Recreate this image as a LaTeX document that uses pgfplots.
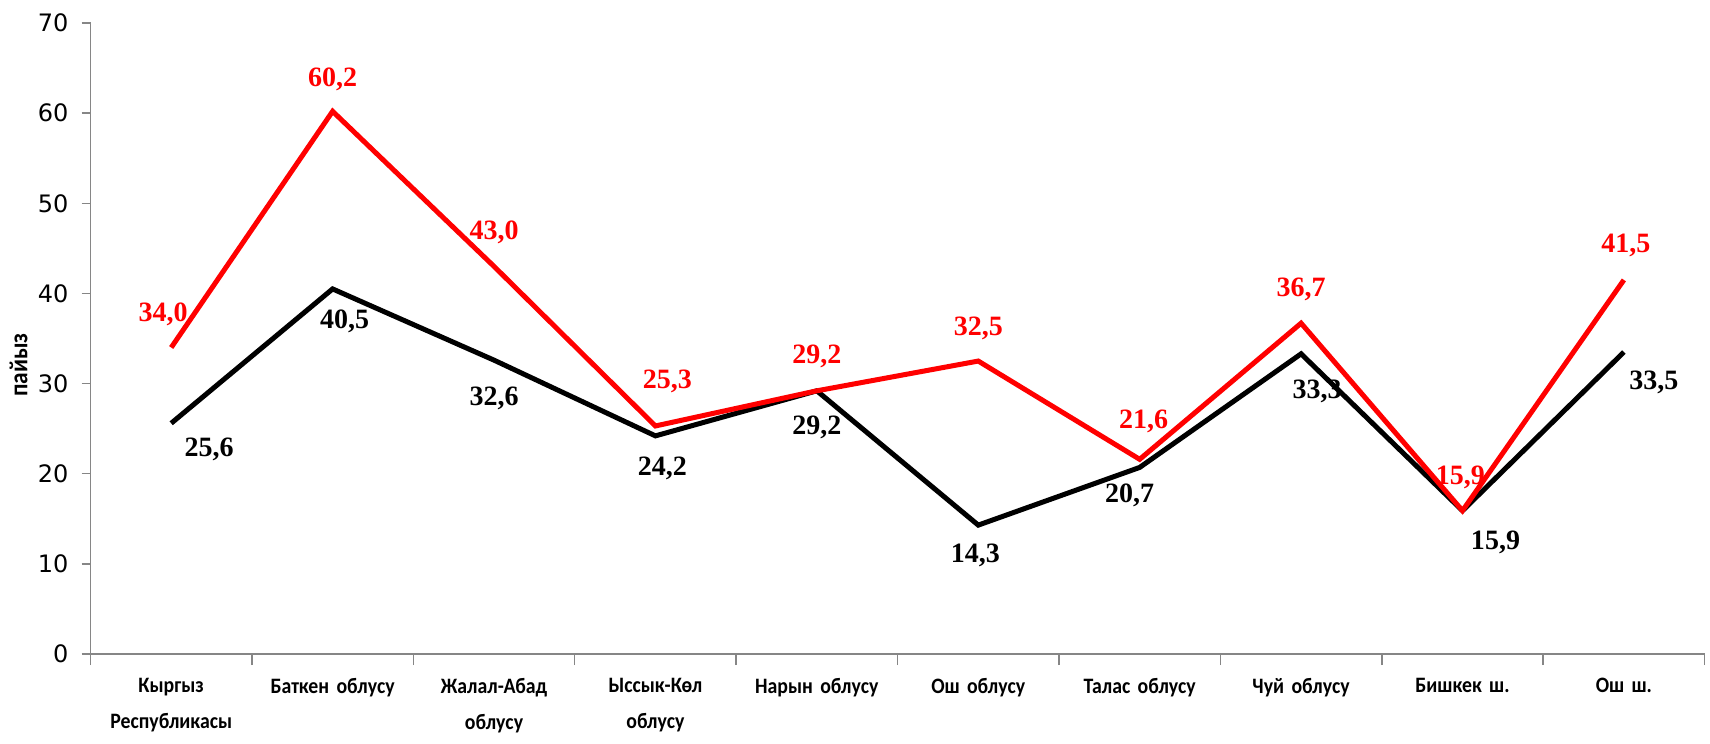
\documentclass[border=0pt]{standalone}
\usepackage{pgfplots}
\pgfplotsset{compat=1.18}
\usepackage{pgfplotstable}
\usepackage{fontspec}
\setmainfont{Liberation Serif}
\newfontfamily\dejavu{DejaVu Sans}
\newfontfamily\carlito{Carlito}[FakeStretch=0.9]
\definecolor{axgray}{HTML}{868686}
\definecolor{lred}{HTML}{FF0000}
\pgfplotstableread{
x r rdx rdy b bdx bdy
0 34.0 -4 16.5 25.6 19 -13
1 60.2 0 16 40.5 6 -16
2 43.0 0 17 32.6 0 -19
3 25.3 6 22.5 24.2 3.5 -16.5
4 29.2 0 17 29.2 0 -18.5
5 32.5 0 16.5 14.3 -1.5 -15
6 21.6 2 19 20.7 -5 -14
7 36.7 0 17 33.3 8 -19
8 15.9 -1 16.5 15.9 16.5 -16
9 41.5 1 17 33.5 15 -15
}\data
\begin{document}
\begin{tikzpicture}
\begin{axis}[
  scale only axis, width=807pt, height=315.5pt,
  xmin=-0.5, xmax=9.5, ymin=0, ymax=70,
  axis lines*=left,
  axis line style={axgray, line width=0.75pt, -},
  ytick={0,10,...,70},
  xtick={0,...,9},
  minor xtick={-0.5,0.5,...,9.5},
  xticklabels={{Кыргыз\\Республикасы},{Баткен облусу},{Жалал-Абад\\облусу},{Ыссык-Көл\\облусу},{Нарын облусу},{Ош облусу},{Талас облусу},{Чуй облусу},{Бишкек ш.},{Ош ш.}},
  x tick label style={font=\carlito\bfseries\fontsize{11}{18}\selectfont, align=center, text width=90pt, anchor=north, yshift=-4pt},
  y tick label style={font=\dejavu\fontsize{12}{14}\selectfont, xshift=-3pt},
  /pgf/number format/assume math mode=true,
  tick align=outside,
  major tick length=4.5pt,
  minor tick length=5.5pt,
  major x tick style={draw=none},
  minor x tick style={draw=axgray, line width=0.75pt},
  ytick style={draw=axgray, line width=0.75pt},
  clip=false,
]
\coordinate (sw) at (rel axis cs:0,0);
\coordinate (ne) at (rel axis cs:1,1);
\addplot[black, line width=2.5pt, mark=none,
  point meta=\thisrow{b},
  visualization depends on={\thisrow{bdx}\as\dx},
  visualization depends on={\thisrow{bdy}\as\dy},
  nodes near coords={\pgfmathprintnumber[fixed,fixed zerofill,precision=1,use comma]{\pgfplotspointmeta}},
  every node near coord/.append style={anchor=center, inner sep=0pt, xshift=\dx pt, yshift=\dy pt, font=\bfseries\fontsize{14}{16}\selectfont, text=black}
] table[x=x,y=b]{\data};
\addplot[lred, line width=2.5pt, mark=none,
  point meta=\thisrow{r},
  visualization depends on={\thisrow{rdx}\as\dx},
  visualization depends on={\thisrow{rdy}\as\dy},
  nodes near coords={\pgfmathprintnumber[fixed,fixed zerofill,precision=1,use comma]{\pgfplotspointmeta}},
  every node near coord/.append style={anchor=center, inner sep=0pt, xshift=\dx pt, yshift=\dy pt, font=\bfseries\fontsize{14}{16}\selectfont, text=lred}
] table[x=x,y=r]{\data};
\node[xshift=-36pt, rotate=90, font=\carlito\bfseries\fontsize{13}{15}\selectfont] at (rel axis cs:0,0.458) {пайыз};
\end{axis}
\pgfresetboundingbox
\path[use as bounding box] ([shift={(-45.25pt,-44.5pt)}]sw) rectangle ([shift={(2.7pt,11.5pt)}]ne);
\end{tikzpicture}
\end{document}
